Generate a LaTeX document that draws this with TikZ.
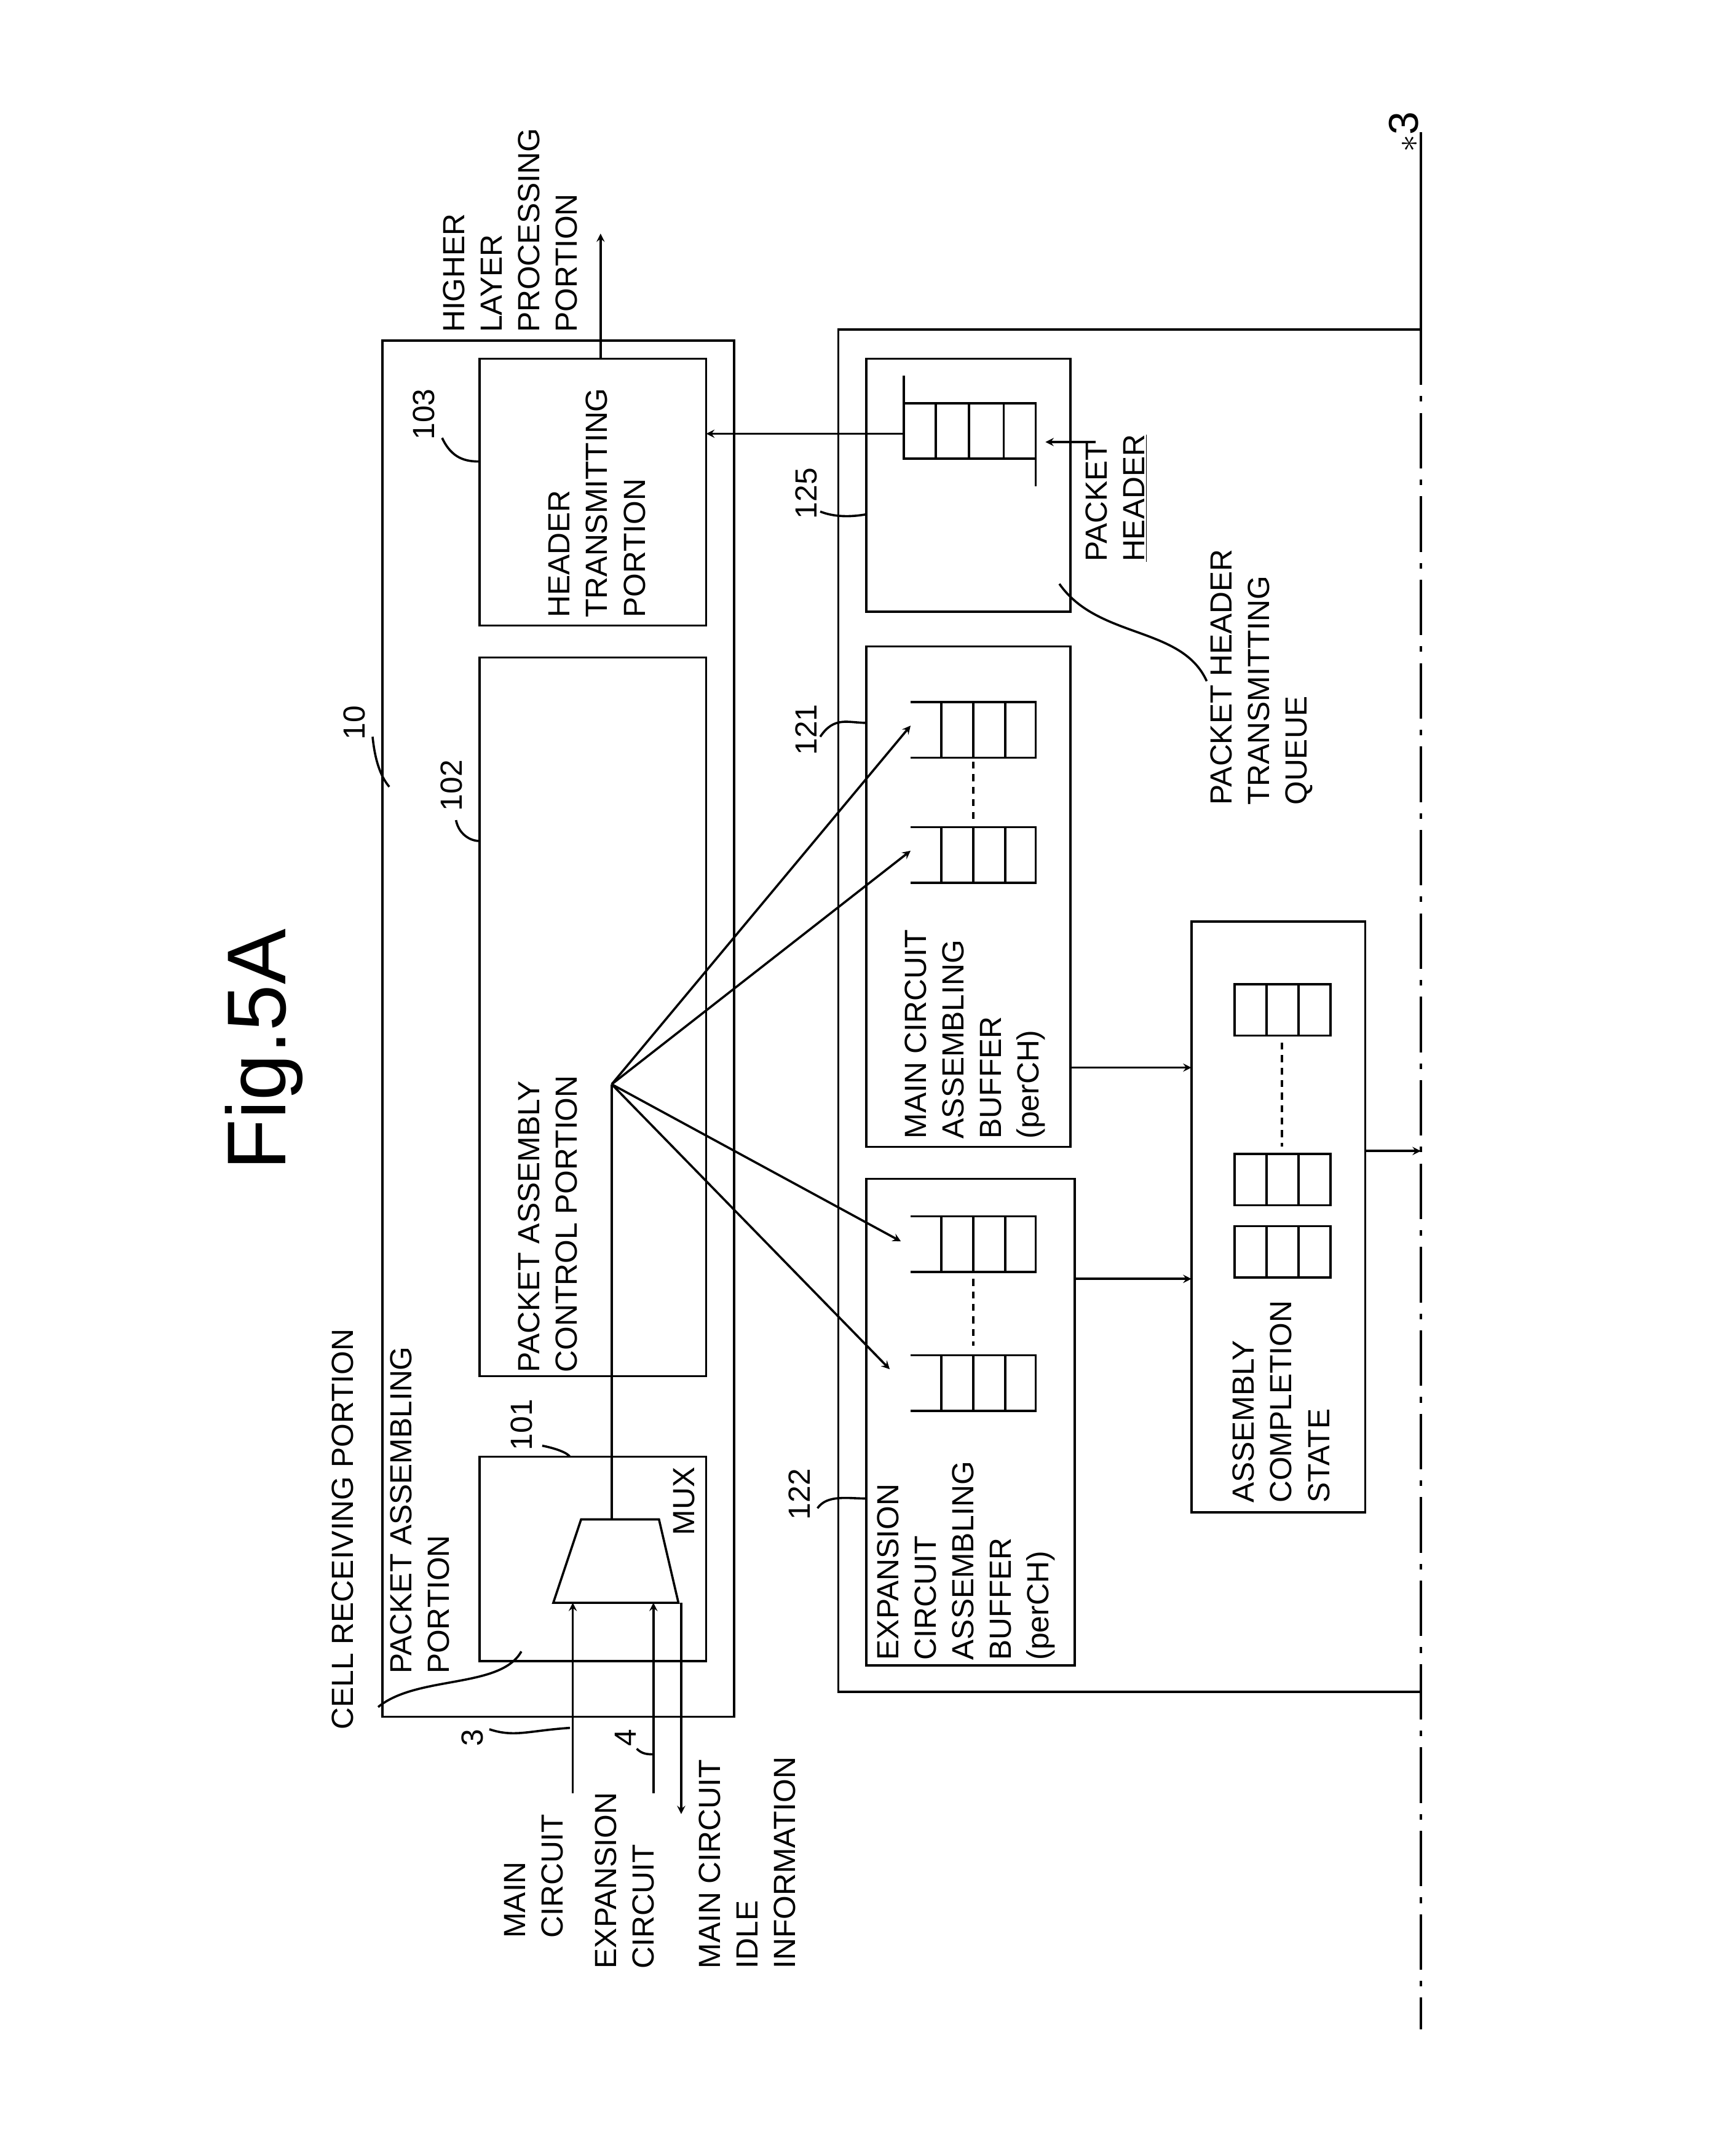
\documentclass[tikz,border=0pt]{standalone}
\usepackage{fontspec}
\setmainfont{Liberation Sans}
\begin{document}
\begin{tikzpicture}[x=1pt,y=-1pt,line width=1.6pt,>=stealth,
  txt/.style={rotate=90,anchor=north west,align=left,inner sep=0pt,font=\fontsize{22}{27}\selectfont},
  lbl/.style={rotate=90,inner sep=1pt,font=\fontsize{22}{27}\selectfont}]
\useasboundingbox (0,0) rectangle (1240,1551);
\newcommand\myq[2]{\draw (#1,#2)--(#1+90,#2)--(#1+90,#2+40)--(#1,#2+40);
  \draw (#1+22,#2)--(#1+22,#2+40) (#1+45,#2)--(#1+45,#2+40) (#1+68,#2)--(#1+68,#2+40);}
\newcommand\myc[2]{\draw (#1,#2) rectangle (#1+69,#2+37);
  \draw (#1+23,#2)--(#1+23,#2+37) (#1+46,#2)--(#1+46,#2+37);}
% title
\node[rotate=90,font=\fontsize{60}{60}\selectfont] (title) at (190,755) {Fig.5A};
% box 10
\draw (275,245) rectangle (528,1235);
\draw (345,1048) rectangle (508,1195);
\draw (345,473) rectangle (508,990);
\draw (345,258) rectangle (508,450);
\node[txt] at (372,988) {PACKET ASSEMBLY\\CONTROL PORTION};
\node[txt] at (394,445) {HEADER\\TRANSMITTING\\PORTION};
\node[txt] at (238,1245) {CELL RECEIVING PORTION};
\node[txt] at (280,1205) {PACKET ASSEMBLING\\PORTION};
\draw (375,1188) .. controls (360,1215) and (300,1205) .. (272,1228);
% MUX
\draw (398,1153)--(488,1153)--(474,1093)--(418,1093)--cycle;
\node[lbl] (mux) at (492,1080) {MUX};
\coordinate (fan) at (440,780);
\draw (440,1093)--(fan);
\draw[->] (fan)--(655,522);
\draw[->] (fan)--(655,612);
\draw[->] (fan)--(648,893);
\draw[->] (fan)--(640,985);
% labels
\node[lbl] at (255,520) {10};
\draw (268,530) .. controls (270,550) and (275,560) .. (280,566);
\node[lbl] at (325,565) {102};
\draw (328,590) .. controls (330,600) and (338,605) .. (345,605);
\node[lbl] at (305,298) {103};
\draw (318,315) .. controls (325,330) and (335,332) .. (345,332);
\node[lbl] at (375,1025) {101};
\draw (390,1040) .. controls (400,1042) and (408,1045) .. (410,1048);
% higher layer
\draw[->] (432,258)--(432,168);
\node[txt] at (318,240) {HIGHER\\LAYER\\PROCESSING\\PORTION};
% inputs
\draw[->] (412,1290)--(412,1153);
\draw[->] (470,1290)--(470,1153);
\draw[->] (490,1153)--(490,1305);
\node[lbl] at (340,1250) {3};
\draw (352,1244) .. controls (370,1250) and (380,1245) .. (410,1243);
\node[lbl] at (450,1250) {4};
\draw (458,1258) .. controls (462,1262) and (466,1262) .. (470,1262);
\node[txt] at (362,1395) {MAIN\\CIRCUIT};
\node[txt] at (427,1417) {EXPANSION\\CIRCUIT};
\node[txt] at (502,1417) {MAIN CIRCUIT\\IDLE\\INFORMATION};
% big box
\draw (1022,237)--(603,237)--(603,1217)--(1022,1217);
\draw (1022,95)--(1022,237);
\draw[dash pattern=on 40pt off 8pt on 4pt off 8pt] (1022,237)--(1022,1460);
\node[lbl,anchor=south] at (1022,95) {\fontsize{30}{30}\selectfont $\ast$3};
% 125
\draw (623,258) rectangle (770,440);
\draw (650,270)--(650,290)--(745,290)--(745,350);
\draw (650,290)--(650,330)--(745,330);
\draw (673,290)--(673,330) (697,290)--(697,330) (722,290)--(722,330);
\draw[->] (650,312)--(508,312);
\node[txt] at (780,405) {PACKET\\\underline{HEADER}};
\draw[->] (788,318)--(752,318);
\node[lbl] at (580,355) {125};
\draw (590,368) .. controls (600,372) and (612,372) .. (623,370);
\node[txt] at (870,580) {PACKET HEADER\\TRANSMITTING\\QUEUE};
\draw (868,490) .. controls (850,450) and (790,460) .. (762,420);
% 121
\draw (623,465) rectangle (770,825);
\myq{655}{505}
\myq{655}{595}
\draw[dash pattern=on 5pt off 4pt] (700,548)--(700,590);
\node[txt] at (650,820) {MAIN CIRCUIT\\ASSEMBLING\\BUFFER\\(perCH)};
\node[lbl] at (580,525) {121};
\draw (590,530) .. controls (600,515) and (610,520) .. (623,520);
% 122
\draw (623,848) rectangle (773,1198);
\myq{655}{875}
\myq{655}{975}
\draw[dash pattern=on 5pt off 4pt] (700,920)--(700,968);
\node[txt] at (630,1195) {EXPANSION\\CIRCUIT\\ASSEMBLING\\BUFFER\\(perCH)};
\node[lbl] at (575,1075) {122};
\draw (588,1085) .. controls (595,1075) and (610,1078) .. (623,1078);
% completion
\draw (857,663) rectangle (982,1088);
\myc{888}{708}
\myc{888}{830}
\myc{888}{882}
\draw[dash pattern=on 5pt off 4pt] (922,750)--(922,825);
\node[txt] at (886,1082) {ASSEMBLY\\COMPLETION\\STATE};
\draw[->] (770,768)--(857,768);
\draw[->] (773,920)--(857,920);
\draw[->] (982,828)--(1022,828);
\end{tikzpicture}
\end{document}
